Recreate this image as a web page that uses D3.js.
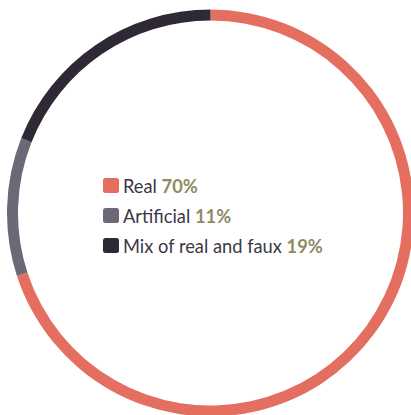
<!DOCTYPE html>
<html><head><meta charset="utf-8">
<script src="https://cdn.jsdelivr.net/npm/d3@7"></script>
<style>html,body{margin:0;padding:0;background:#fff;}svg{display:block;}</style>
</head><body>
<svg id="chart" width="411" height="415"></svg>
<script>
const categories = ["Real", "Artificial", "Mix of real and faux"];
const values = [70, 11, 19];
const colors = ["#e46f60", "#6c6877", "#2e2935"];

const svg = d3.select("#chart");
const cx = 210.5, cy = 213, rOuter = 203.5, rInner = 192.5;
const g = svg.append("g").attr("transform", `translate(${cx},${cy})`);

const pie = d3.pie().sort(null).value(d => d.value);
const arc = d3.arc().innerRadius(rInner).outerRadius(rOuter);
const data = categories.map((c, i) => ({name: c, value: values[i], color: colors[i]}));

g.selectAll("path").data(pie(data)).join("path")
  .attr("d", arc).attr("fill", d => d.data.color);

const legend = svg.append("g").attr("transform", "translate(103,178)");
const row = d3.scaleBand().domain(categories).range([0, 90]);
const items = legend.selectAll("g").data(data).join("g")
  .attr("transform", d => `translate(0,${row(d.name)})`);
items.append("rect").attr("x", 0).attr("y", 0).attr("width", 16).attr("height", 15)
  .attr("rx", 2.5).attr("fill", d => d.color);
const t = items.append("text").attr("x", 20).attr("y", 14.5)
  .attr("font-family", "Lato, sans-serif").attr("font-size", 18.3)
  .attr("fill", "#3b3745");
t.append("tspan").text(d => d.name + " ");
t.append("tspan").attr("font-weight", "bold").attr("fill", "#8d8b62").text(d => d.value + "%");
</script>
</body></html>
